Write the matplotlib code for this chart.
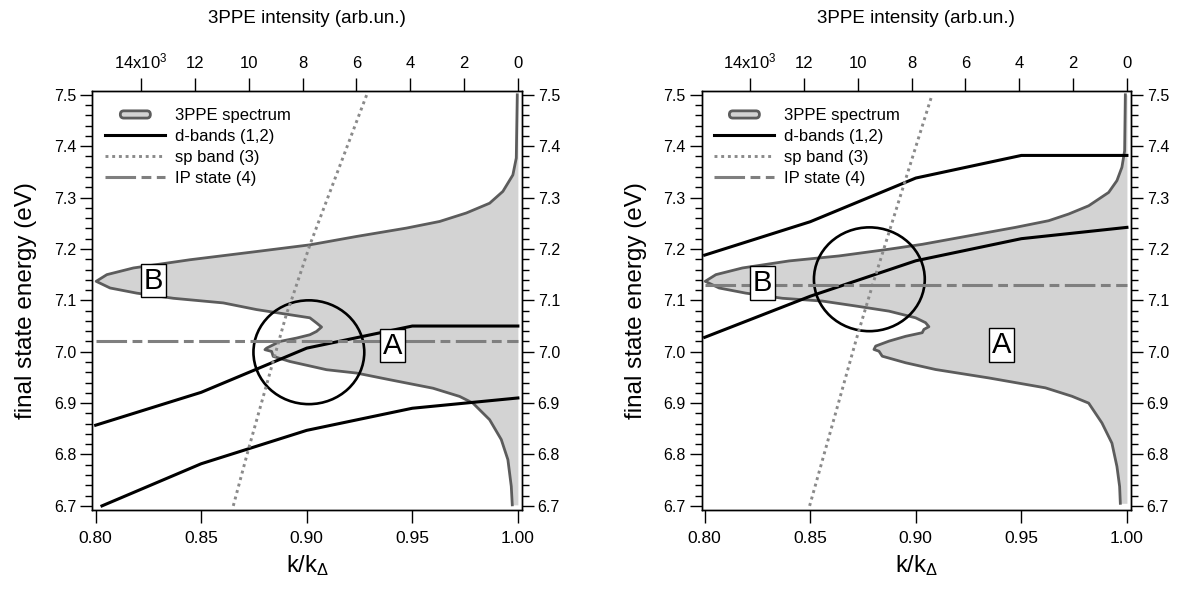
import matplotlib.pyplot as plt
from matplotlib.patches import Ellipse, FancyBboxPatch, Patch
from matplotlib.legend_handler import HandlerPatch
from matplotlib.lines import Line2D
from matplotlib.ticker import AutoMinorLocator, FixedLocator

plt.rcParams['font.family'] = ['Liberation Sans', 'DejaVu Sans']
plt.rcParams['mathtext.fontset'] = 'custom'
plt.rcParams['mathtext.rm'] = 'Liberation Sans'
plt.rcParams['mathtext.it'] = 'Liberation Sans:italic'

# axis ranges and the scale linking k/k_Delta (bottom) to the 3PPE intensity (top)
K_MIN, K_MAX = 0.7985, 1.0018
E_MIN, E_MAX = 6.692, 7.508
I_PER_K = 78431.0

# ---- left panel ----
left_spec_e = [7.500, 7.377, 7.344, 7.312, 7.289, 7.270, 7.2535, 7.2406, 7.2243,
               7.208, 7.195, 7.179, 7.163, 7.150, 7.137, 7.124, 7.114, 7.104,
               7.095, 7.082, 7.072, 7.066, 7.056, 7.048, 7.0395, 7.033, 7.0266,
               7.020, 7.007, 7.004, 7.0006, 6.991, 6.981, 6.965, 6.9585, 6.9455,
               6.929, 6.913, 6.900, 6.8677, 6.829, 6.790, 6.738, 6.702]
left_spec_i = [22, 59, 186, 557, 1050, 1914, 2905, 4140, 5995,
               7728, 9705, 12180, 14284, 15270, 15667, 15148, 14157, 12800,
               10945, 9705, 8470, 7728, 7480, 7294, 7480, 7728, 8221,
               8841, 9334, 9397, 9149, 9090, 8470, 7108, 5995, 4760,
               3154, 2163, 1670, 1050, 616, 371, 245, 208]
left_band1_k = [0.80, 0.85, 0.90, 0.95, 1.00]
left_band1_e = [6.857, 6.921, 7.007, 7.050, 7.050]
left_band2_k = [0.803, 0.85, 0.90, 0.95, 1.00]
left_band2_e = [6.700, 6.782, 6.847, 6.890, 6.910]
left_sp_k = [0.8652, 0.8723, 0.8905, 0.8928, 0.9015, 0.9284]
left_sp_e = [6.700, 6.809, 7.075, 7.101, 7.208, 7.500]
left_ip_e = 7.02
left_circle = (0.901, 6.999)
left_label_a = (0.9407, 7.012)
left_label_b = (0.8275, 7.1385)

# ---- right panel ----
right_spec_e = [7.500, 7.391, 7.359, 7.333, 7.310, 7.284, 7.268, 7.255, 7.242,
                7.2255, 7.209, 7.1995, 7.1864, 7.1767, 7.163, 7.150, 7.137,
                7.124, 7.114, 7.104, 7.0986, 7.089, 7.079, 7.066, 7.0565,
                7.0487, 7.0434, 7.037, 7.030, 7.0206, 7.011, 7.0044, 7.001,
                6.9913, 6.9785, 6.9654, 6.949, 6.9297, 6.9133, 6.900, 6.8614,
                6.822, 6.7767, 6.7377, 6.705]
right_spec_i = [59, 85, 186, 371, 679, 1421, 2163, 2905, 4140,
                5873, 7605, 8841, 10696, 12550, 14284, 15270, 15667,
                15148, 14157, 12800, 11315, 10077, 8841, 7850, 7480,
                7357, 7542, 7605, 8221, 8841, 9334, 9397, 9211,
                9090, 8221, 7109, 5131, 3027, 2040, 1421, 928,
                557, 371, 271, 245]
right_band1_k = [0.80, 0.85, 0.90, 0.95, 1.00]
right_band1_e = [7.188, 7.253, 7.338, 7.382, 7.382]
right_band2_k = [0.80, 0.85, 0.90, 0.95, 1.00]
right_band2_e = [7.028, 7.108, 7.177, 7.220, 7.242]
right_sp_k = [0.8497, 0.8718, 0.8796, 0.9077]
right_sp_e = [6.700, 7.024, 7.131, 7.500]
right_ip_e = 7.13
right_circle = (0.878, 7.141)
right_label_a = (0.9407, 7.013)
right_label_b = (0.8275, 7.133)

k_ticks = [0.80, 0.85, 0.90, 0.95, 1.00]
e_ticks = [6.7, 6.8, 6.9, 7.0, 7.1, 7.2, 7.3, 7.4, 7.5]
i_ticks = [14000, 12000, 10000, 8000, 6000, 4000, 2000, 0]
i_tick_labels = [r'14x10$^{3}$', '12', '10', '8', '6', '4', '2', '0']

SPEC_FILL = '#d3d3d3'
SPEC_EDGE = '#5c5c5c'
SP_COLOR = '#8a8a8a'
IP_COLOR = '#7f7f7f'
IP_DASH = (0, (10, 1.8, 3.2, 1.8))
SP_DOTS = (0, (1, 1.3))


def spectrum_legend_patch(legend, orig_handle, xdescent, ydescent,
                          width, height, fontsize):
    w, h = width * 0.5, height * 0.62
    return FancyBboxPatch((-xdescent + (width - w) / 2, -ydescent + (height - h) / 2),
                          w, h, boxstyle='round,pad=0,rounding_size=2.5')


def draw_panel(ax, spec_e, spec_i, b1_k, b1_e, b2_k, b2_e, sp_k, sp_e,
               ip_e, circle, label_a, label_b):
    top = ax.twiny()
    top.set_xlim((1 - K_MIN) * I_PER_K, (1 - K_MAX) * I_PER_K)
    # lines sit above the spectrum drawn on the intensity axes
    ax.set_zorder(top.get_zorder() + 1)
    ax.patch.set_visible(False)
    top.patch.set_visible(True)
    top.patch.set_facecolor('white')

    top.fill_betweenx(spec_e, spec_i, 0, color=SPEC_FILL, lw=0)
    top.plot(spec_i, spec_e, color=SPEC_EDGE, lw=2.0)

    ax.plot(b1_k, b1_e, color='black', lw=2.2)
    ax.plot(b2_k, b2_e, color='black', lw=2.2)
    ax.plot(sp_k, sp_e, color=SP_COLOR, lw=2.1, linestyle=SP_DOTS)
    ax.plot([0.80, 1.00], [ip_e, ip_e], color=IP_COLOR, lw=2.2,
            linestyle=IP_DASH)
    ax.add_patch(Ellipse(circle, 0.0525, 0.202, fill=False,
                         edgecolor='black', lw=1.9))

    box = dict(boxstyle='square,pad=0.1', facecolor='white',
               edgecolor='black', lw=1.0)
    ax.text(*label_a, 'A', fontsize=21, ha='center', va='center', bbox=box)
    ax.text(*label_b, 'B', fontsize=21, ha='center', va='center', bbox=box)

    ax.set_xlim(K_MIN, K_MAX)
    ax.set_ylim(E_MIN, E_MAX)
    ax.xaxis.set_major_locator(FixedLocator(k_ticks))
    ax.set_xticklabels([f'{k:.2f}' for k in k_ticks])
    ax.yaxis.set_major_locator(FixedLocator(e_ticks))
    ax.set_yticklabels([f'{e:.1f}' for e in e_ticks])
    ax.yaxis.set_minor_locator(AutoMinorLocator(5))
    ax.yaxis.set_ticks_position('both')
    ax.tick_params(axis='y', which='major', direction='out', length=8.5,
                   width=1, labelsize=11.5, labelleft=True, labelright=True,
                   pad=3)
    ax.tick_params(axis='y', which='minor', direction='out', length=4.8,
                   width=1)
    ax.tick_params(axis='x', which='major', direction='out', length=9.4,
                   width=1, labelsize=12.5, pad=6)

    top.xaxis.set_major_locator(FixedLocator(i_ticks))
    top.set_xticklabels(i_tick_labels)
    top.tick_params(axis='x', direction='out', length=9.2, width=1,
                    labelsize=12, pad=5)

    for a in (ax, top):
        for s in a.spines.values():
            s.set_linewidth(1.0)

    ax.set_xlabel(r'k/k$_{\Delta}$', fontsize=17, labelpad=5)
    ax.set_ylabel('final state energy (eV)', fontsize=17.5, labelpad=12)
    top.set_xlabel('3PPE intensity (arb.un.)', fontsize=13.5, labelpad=20)

    handles = [Patch(facecolor=SPEC_FILL, edgecolor=SPEC_EDGE, lw=2.0),
               Line2D([], [], color='black', lw=2.2),
               Line2D([], [], color=SP_COLOR, lw=2.1, linestyle=SP_DOTS),
               Line2D([], [], color=IP_COLOR, lw=2.2, linestyle=IP_DASH)]
    labels = ['3PPE spectrum', 'd-bands (1,2)', 'sp band (3)', 'IP state (4)']
    ax.legend(handles, labels, loc='upper left', bbox_to_anchor=(0.03, 0.958),
              frameon=False, fontsize=12, borderpad=0, borderaxespad=0,
              handlelength=3.6, handletextpad=0.55, labelspacing=0.35,
              handler_map={Patch: HandlerPatch(patch_func=spectrum_legend_patch)})


fig = plt.figure(figsize=(11.84, 5.90), dpi=100)
ax_left = fig.add_axes([0.0781, 0.1356, 0.3625, 0.7107])
ax_right = fig.add_axes([0.5925, 0.1356, 0.3625, 0.7107])

draw_panel(ax_left, left_spec_e, left_spec_i, left_band1_k, left_band1_e,
           left_band2_k, left_band2_e, left_sp_k, left_sp_e, left_ip_e,
           left_circle, left_label_a, left_label_b)
draw_panel(ax_right, right_spec_e, right_spec_i, right_band1_k, right_band1_e,
           right_band2_k, right_band2_e, right_sp_k, right_sp_e, right_ip_e,
           right_circle, right_label_a, right_label_b)

fig.savefig('out.png', dpi=100, facecolor='white')
